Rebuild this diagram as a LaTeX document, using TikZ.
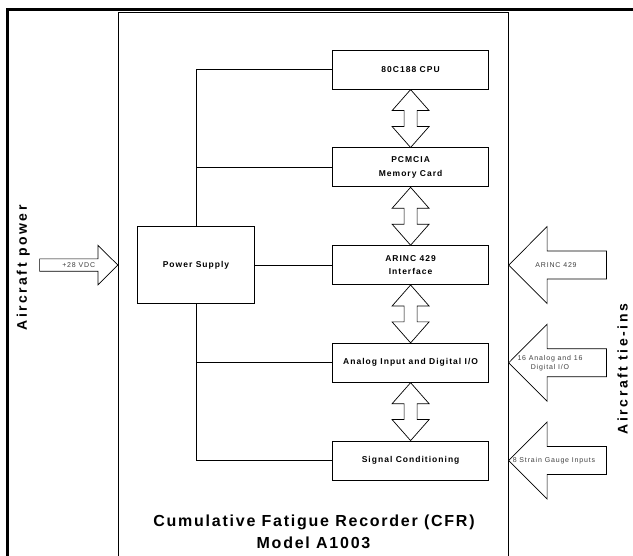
\documentclass[tikz,border=0pt]{standalone}
\usepackage{fontspec}
\setmainfont{Liberation Sans}
\newfontfamily\boxfont[LetterSpace=12]{Liberation Sans}
\newfontfamily\smallfont[LetterSpace=12]{Liberation Sans}
\newfontfamily\sidefont[LetterSpace=18]{Liberation Sans}
\newfontfamily\titlefont[LetterSpace=11]{Liberation Sans}
\usetikzlibrary{calc}
\definecolor{txtgrey}{gray}{0.25}
\newcommand\dblarr[2]{%
  \draw[dblarrow] (#1.south) -- ($(#1.south)+(18.5,21)$) -- ($(#1.south)+(6.5,21)$)
    -- ($(#2.north)+(6.5,-21)$) -- ($(#2.north)+(18.5,-21)$) -- (#2.north)
    -- ($(#2.north)+(-18.5,-21)$) -- ($(#2.north)+(-6.5,-21)$)
    -- ($(#1.south)+(-6.5,21)$) -- ($(#1.south)+(-18.5,21)$) -- cycle;}
\newcommand\inarr[1]{%
  \draw[inarrow] (#1) -- ++(38.4,-38.5) -- ++(0,24.5) -- ++(59.3,0) -- ++(0,28)
    -- ++(-59.3,0) -- ++(0,24.5) -- cycle;}
\begin{document}
\begin{tikzpicture}[x=1pt,y=-1pt,
  blk/.style={draw, line width=0.8pt, minimum width=156pt, minimum height=39pt,
    inner sep=0pt, align=center, font=\boxfont\bfseries\fontsize{8.5}{13.5}\selectfont},
  wire/.style={line width=0.8pt},
  dblarrow/.style={draw, fill=white, line width=0.7pt, line join=miter},
  inarrow/.style={draw, fill=white, line width=0.7pt, line join=miter},
  small/.style={inner sep=0pt, align=center, text=txtgrey,
    font=\smallfont\fontsize{7}{9.5}\selectfont},
  side/.style={rotate=90, anchor=base, inner sep=0pt,
    font=\sidefont\bfseries\fontsize{14}{16}\selectfont},
  ttl/.style={anchor=base, inner sep=0pt,
    font=\titlefont\bfseries\fontsize{16}{19}\selectfont}]
\useasboundingbox (0,0) rectangle (633,556);
\fill[white] (0,0) rectangle (633,556);
% outer frame (clipped by page)
\draw[line width=3pt] (7,570) -- (7,9.5) -- (650,9.5);
% CFR enclosure
\node[draw, line width=0.8pt, minimum width=390pt, minimum height=588pt, inner sep=0pt]
  (cfr) at (313.3,306) {};
% blocks
\node[blk] (cpu) at (410.6,69.7) {80C188 CPU};
\node[blk] (pcm) at (410.6,167.4) {PCMCIA\\Memory Card};
\node[blk] (arinc) at (410.6,265.1) {ARINC 429\\Interface};
\node[blk] (ana) at (410.6,362.8) {Analog Input and Digital I/O};
\node[blk] (sig) at (410.6,460.5) {Signal Conditioning};
\node[blk, minimum width=116.3pt, minimum height=77.6pt] (ps) at (196,265.1) {Power Supply};
% power distribution
\draw[wire] (ps.north) |- (cpu.west);
\draw[wire] (ps.north |- pcm.west) -- (pcm.west);
\draw[wire] (ps.east) -- (arinc.west);
\draw[wire] (ps.south) |- (sig.west);
\draw[wire] (ps.south |- ana.west) -- (ana.west);
% bus arrows
\dblarr{cpu}{pcm}
\dblarr{pcm}{arinc}
\dblarr{arinc}{ana}
\dblarr{ana}{sig}
% input arrows (right)
\coordinate (t1) at (cfr.east |- arinc.center);
\coordinate (t2) at (cfr.east |- ana.center);
\coordinate (t3) at (cfr.east |- sig.center);
\inarr{t1}
\inarr{t2}
\inarr{t3}
\node[small] (l1) at (556,265.1) {ARINC 429};
\node[small] (l2) at (550,363.2) {16 Analog and 16\\Digital I/O};
\node[small] (l3) at (554,460.5) {8 Strain Gauge Inputs};
% power input arrow (left)
\coordinate (tp) at (cfr.west |- ps.center);
\draw[inarrow] (tp) -- ++(-20,-19.8) -- ++(0,13.6) -- ++(-58.3,0) -- ++(0,12.4)
  -- ++(58.3,0) -- ++(0,13.6) -- cycle;
\node[small] (lp) at (78.7,265.1) {+28 VDC};
% side labels
\node[side] (apower) at (27,268) {Aircraft power};
\node[side] (atie) at (627.5,369) {Aircraft tie-ins};
% title
\node[ttl] (t1txt) at (314,526.5) {Cumulative Fatigue Recorder (CFR)};
\node[ttl] (t2txt) at (313.5,548) {Model A1003};
\end{tikzpicture}
\end{document}
